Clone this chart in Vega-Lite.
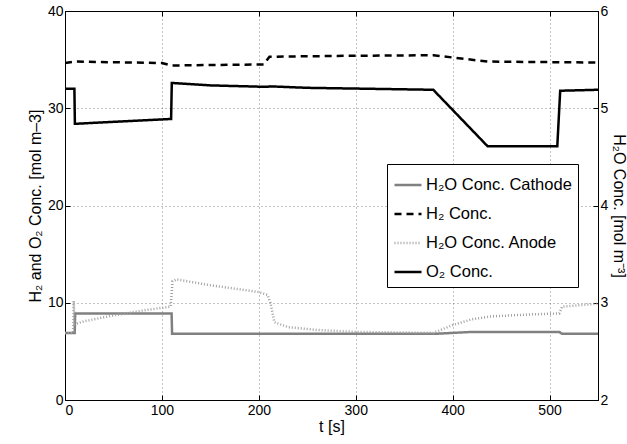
{
  "$schema": "https://vega.github.io/schema/vega-lite/v6.json",
  "width": 533,
  "height": 389,
  "autosize": {"type": "none"},
  "padding": {"left": 65, "top": 11, "right": 29, "bottom": 44},
  "background": "white",
  "config": {
    "font": "Liberation Sans",
    "view": {"stroke": "black", "strokeWidth": 1},
    "axis": {
      "domainColor": "black",
      "tickColor": "black",
      "tickSize": -5,
      "labelColor": "black",
      "labelFontSize": 14,
      "titleFontSize": 16,
      "titleFontWeight": "normal",
      "titleColor": "black",
      "gridColor": "#666666",
      "gridDash": [1, 3],
      "gridWidth": 0.8
    },
    "legend": {
      "orient": "none",
      "legendX": 322,
      "legendY": 153,
      "strokeColor": "black",
      "fillColor": "white",
      "padding": 6,
      "labelFontSize": 16.5,
      "labelColor": "black",
      "symbolType": "stroke",
      "symbolSize": 729,
      "rowPadding": 5,
      "labelOffset": 3
    }
  },
  "data": {
    "values": [
      {"s": "O₂ Conc.", "t": 0, "v": 32.0},
      {"s": "O₂ Conc.", "t": 9.7, "v": 32.0},
      {"s": "O₂ Conc.", "t": 10.2, "v": 28.4},
      {"s": "O₂ Conc.", "t": 109.5, "v": 28.9},
      {"s": "O₂ Conc.", "t": 110.2, "v": 32.6},
      {"s": "O₂ Conc.", "t": 150, "v": 32.35},
      {"s": "O₂ Conc.", "t": 208, "v": 32.2},
      {"s": "O₂ Conc.", "t": 212, "v": 32.25},
      {"s": "O₂ Conc.", "t": 250, "v": 32.1},
      {"s": "O₂ Conc.", "t": 380, "v": 31.9},
      {"s": "O₂ Conc.", "t": 436, "v": 26.1},
      {"s": "O₂ Conc.", "t": 508, "v": 26.1},
      {"s": "O₂ Conc.", "t": 511, "v": 31.8},
      {"s": "O₂ Conc.", "t": 550, "v": 31.9},
      {"s": "H₂ Conc.", "t": 0, "v": 34.65},
      {"s": "H₂ Conc.", "t": 10, "v": 34.8},
      {"s": "H₂ Conc.", "t": 100, "v": 34.65},
      {"s": "H₂ Conc.", "t": 110, "v": 34.4},
      {"s": "H₂ Conc.", "t": 205, "v": 34.5},
      {"s": "H₂ Conc.", "t": 211, "v": 35.3},
      {"s": "H₂ Conc.", "t": 300, "v": 35.4},
      {"s": "H₂ Conc.", "t": 380, "v": 35.45},
      {"s": "H₂ Conc.", "t": 436, "v": 34.8},
      {"s": "H₂ Conc.", "t": 550, "v": 34.7},
      {"s": "H₂O Conc. Cathode", "t": 0, "v": 2.69},
      {"s": "H₂O Conc. Cathode", "t": 10, "v": 2.69},
      {"s": "H₂O Conc. Cathode", "t": 10.5, "v": 2.89},
      {"s": "H₂O Conc. Cathode", "t": 110, "v": 2.89},
      {"s": "H₂O Conc. Cathode", "t": 110.5, "v": 2.68},
      {"s": "H₂O Conc. Cathode", "t": 380, "v": 2.68},
      {"s": "H₂O Conc. Cathode", "t": 420, "v": 2.70},
      {"s": "H₂O Conc. Cathode", "t": 510, "v": 2.70},
      {"s": "H₂O Conc. Cathode", "t": 513, "v": 2.68},
      {"s": "H₂O Conc. Cathode", "t": 550, "v": 2.68},
      {"s": "H₂O Conc. Anode", "t": 0, "v": 2.69},
      {"s": "H₂O Conc. Anode", "t": 8.5, "v": 2.69},
      {"s": "H₂O Conc. Anode", "t": 9, "v": 3.02},
      {"s": "H₂O Conc. Anode", "t": 10, "v": 2.78},
      {"s": "H₂O Conc. Anode", "t": 20, "v": 2.81},
      {"s": "H₂O Conc. Anode", "t": 50, "v": 2.87},
      {"s": "H₂O Conc. Anode", "t": 80, "v": 2.92},
      {"s": "H₂O Conc. Anode", "t": 109, "v": 2.96},
      {"s": "H₂O Conc. Anode", "t": 111, "v": 3.22},
      {"s": "H₂O Conc. Anode", "t": 115, "v": 3.24},
      {"s": "H₂O Conc. Anode", "t": 150, "v": 3.18},
      {"s": "H₂O Conc. Anode", "t": 200, "v": 3.11},
      {"s": "H₂O Conc. Anode", "t": 209, "v": 3.08},
      {"s": "H₂O Conc. Anode", "t": 212, "v": 3.0},
      {"s": "H₂O Conc. Anode", "t": 216, "v": 2.80},
      {"s": "H₂O Conc. Anode", "t": 230, "v": 2.75},
      {"s": "H₂O Conc. Anode", "t": 260, "v": 2.72},
      {"s": "H₂O Conc. Anode", "t": 300, "v": 2.70},
      {"s": "H₂O Conc. Anode", "t": 380, "v": 2.69},
      {"s": "H₂O Conc. Anode", "t": 400, "v": 2.77},
      {"s": "H₂O Conc. Anode", "t": 420, "v": 2.83},
      {"s": "H₂O Conc. Anode", "t": 440, "v": 2.86},
      {"s": "H₂O Conc. Anode", "t": 480, "v": 2.88},
      {"s": "H₂O Conc. Anode", "t": 510, "v": 2.89},
      {"s": "H₂O Conc. Anode", "t": 513, "v": 2.96},
      {"s": "H₂O Conc. Anode", "t": 550, "v": 2.99}
    ]
  },
  "encoding": {
    "color": {
      "field": "s", "type": "nominal", "title": null,
      "scale": {
        "domain": ["H₂O Conc. Cathode", "H₂ Conc.", "H₂O Conc. Anode", "O₂ Conc."],
        "range": ["#808080", "#000000", "#a0a0a0", "#000000"]
      }
    },
    "strokeDash": {
      "field": "s", "type": "nominal", "title": null,
      "scale": {
        "domain": ["H₂O Conc. Cathode", "H₂ Conc.", "H₂O Conc. Anode", "O₂ Conc."],
        "range": [[1, 0], [7, 5], [1, 2], [1, 0]]
      }
    },
    "strokeWidth": {
      "field": "s", "type": "nominal", "title": null,
      "scale": {
        "domain": ["H₂O Conc. Cathode", "H₂ Conc.", "H₂O Conc. Anode", "O₂ Conc."],
        "range": [2.5, 2.5, 2, 2.5]
      }
    }
  },
  "layer": [
    {
      "transform": [{"filter": {"field": "s", "oneOf": ["H₂ Conc.", "O₂ Conc."]}}],
      "mark": {"type": "line", "clip": true},
      "encoding": {
        "x": {
          "field": "t", "type": "quantitative", "title": "t [s]",
          "scale": {"domain": [0, 550], "nice": false},
          "axis": {"values": [0, 100, 200, 300, 400, 500], "grid": true, "labelPadding": 8, "titlePadding": 1}
        },
        "y": {
          "field": "v", "type": "quantitative",
          "title": "H₂ and O₂ Conc. [mol m–3]",
          "scale": {"domain": [0, 40], "nice": false},
          "axis": {"values": [0, 10, 20, 30, 40], "grid": true, "labelPadding": 7, "titlePadding": 4}
        }
      }
    },
    {
      "transform": [{"filter": {"field": "s", "oneOf": ["H₂O Conc. Cathode", "H₂O Conc. Anode"]}}],
      "mark": {"type": "line", "clip": true},
      "encoding": {
        "x": {
          "field": "t", "type": "quantitative",
          "axis": {"orient": "top", "values": [0, 100, 200, 300, 400, 500], "labels": false, "title": null, "grid": false}
        },
        "y": {
          "field": "v", "type": "quantitative",
          "title": "H₂O Conc. [mol m⁻³]",
          "scale": {"domain": [2, 6], "nice": false},
          "axis": {"orient": "right", "values": [2, 3, 4, 5, 6], "grid": false, "labelPadding": 7, "titlePadding": 3}
        }
      }
    }
  ],
  "resolve": {"scale": {"y": "independent"}, "axis": {"x": "independent"}}
}
